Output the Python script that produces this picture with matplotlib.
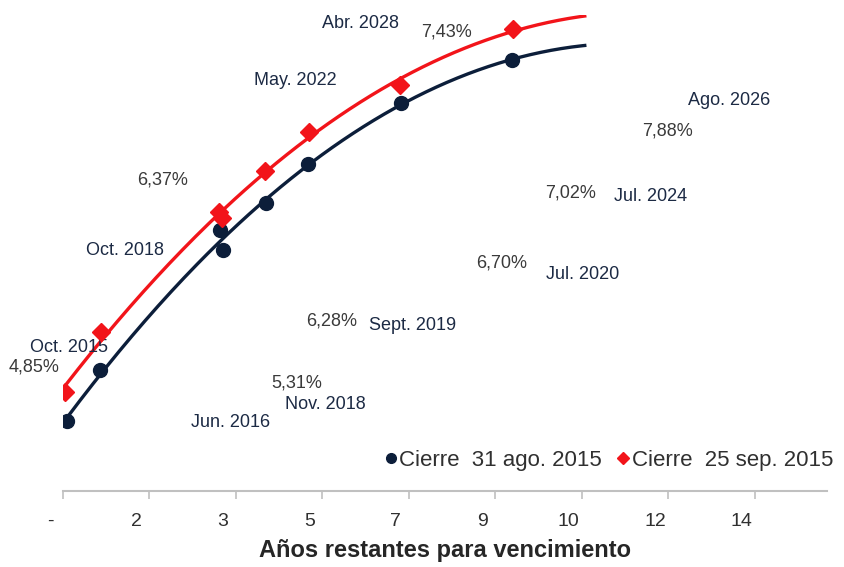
#plot.py
#
#Yield curve of bonds: years to maturity vs yield, two closing dates
#
import matplotlib.pyplot as plt #plotting
import matplotlib.transforms as mtransforms #to shift tick labels a bit
import numpy as np #for the trend line fit

plt.rcParams['font.family'] = ['Liberation Sans', 'DejaVu Sans']

#years remaining to maturity and yield (%) - closing 31 ago. 2015
years_ago = [0.08, 0.74, 3.16, 3.22, 4.08, 4.93, 6.80, 9.03]
yield_ago = [4.63, 5.00, 6.01, 5.86, 6.20, 6.48, 6.92, 7.23]

#years remaining to maturity and yield (%) - closing 25 sep. 2015
years_sep = [0.04, 0.76, 3.14, 3.20, 4.06, 4.95, 6.78, 9.05]
yield_sep = [4.84, 5.27, 6.14, 6.09, 6.43, 6.71, 7.05, 7.45]

#x ticks (excel major unit 1.74) and their labels
xticks = [0, 1.74, 3.48, 5.22, 6.96, 8.70, 10.44, 12.18, 13.92]
xtick_labels = ['-', '2', '3', '5', '7', '9', '10', '12', '14']

#data labels that float around the chart (text, x, y)
pct_labels = [('7,43%', 7.71, 7.43), ('7,88%', 12.17, 6.72), ('6,37%', 2.01, 6.37),
              ('7,02%', 10.22, 6.27), ('6,70%', 8.83, 5.77), ('6,28%', 5.41, 5.35),
              ('4,85%', -0.58, 5.02), ('5,31%', 4.71, 4.91)]
name_labels = [('Abr. 2028', 5.98, 7.49), ('May. 2022', 4.67, 7.08), ('Ago. 2026', 13.40, 6.94),
               ('Jul. 2024', 11.83, 6.25), ('Oct. 2018', 1.25, 5.86), ('Jul. 2020', 10.46, 5.69),
               ('Sept. 2019', 7.04, 5.32), ('Oct. 2015', 0.12, 5.16), ('Nov. 2018', 5.29, 4.75),
               ('Jun. 2016', 3.38, 4.62)]

navy = '#0c1e3a'
red = '#f2141a'

fig = plt.figure(figsize=(8.44, 5.67), dpi=100)
ax = fig.add_axes([0.0746, 0.134, 0.905, 0.84])

#trend lines (2nd order polynomial like excel)
for xs, ys, c in [(years_ago, yield_ago, navy), (years_sep, yield_sep, red)]:
    p = np.polyfit(xs, ys, 2)
    xx = np.linspace(min(xs), 10.5, 200)
    ax.plot(xx, np.polyval(p, xx), color=c, lw=2.4, zorder=2)

ax.plot(years_ago, yield_ago, 'o', color=navy, ms=10, zorder=3, label='Cierre  31 ago. 2015')
ax.plot(years_sep, yield_sep, 'D', color=red, ms=9, zorder=4, label='Cierre  25 sep. 2015')

for t, x, y in pct_labels:
    ax.text(x, y, t, ha='center', va='center', fontsize=13, color='#3a3a3a', clip_on=False)
for t, x, y in name_labels:
    ax.text(x, y, t, ha='center', va='center', fontsize=13, color='#1c2a44', clip_on=False)

ax.set_xlim(0, 15.37)
ax.set_ylim(4.13, 7.555)

#only the bottom axis is shown
for s in ['top', 'right', 'left']:
    ax.spines[s].set_visible(False)
ax.spines['bottom'].set_color('#c0c0c0')
ax.spines['bottom'].set_linewidth(1.5)
ax.set_yticks([])
ax.set_xticks(xticks)
ax.set_xticklabels(xtick_labels, fontsize=14, color='#303030')
ax.tick_params(axis='x', length=6, width=1.2, color='#c0c0c0', pad=10)
offset = mtransforms.ScaledTranslation(-13/100, 0, fig.dpi_scale_trans)
for lab in ax.get_xticklabels():
    lab.set_transform(lab.get_transform() + offset)

ax.set_xlabel('Años restantes para vencimiento', fontsize=17, fontweight='bold', color='#262626', labelpad=6)

ax.legend(loc='center right', bbox_to_anchor=(1.035, 0.064), ncol=2, frameon=False, fontsize=16,
          handletextpad=0.05, columnspacing=0.6, handlelength=0.7, markerscale=0.7,
          labelcolor='#303030')

fig.savefig('out.png', dpi=100)
